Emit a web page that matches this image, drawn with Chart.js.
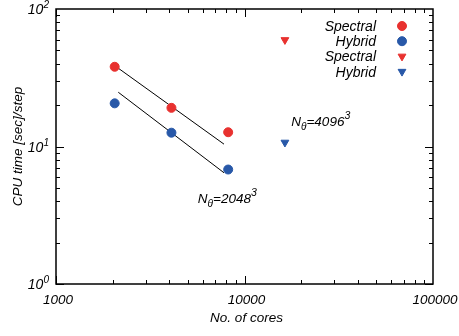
<!DOCTYPE html>
<html>
<head>
<meta charset="utf-8">
<script src="https://cdn.jsdelivr.net/npm/chart.js@4"></script>
<style>
  html, body { margin: 0; padding: 0; background: #fff; }
</style>
</head>
<body>
<canvas id="cpuChart" width="459" height="336"></canvas>
<script>
// data
const cores = [2048, 4096, 8192];
const spectral2048 = [38, 19.1, 12.7];
const hybrid2048 = [20.6, 12.6, 6.8];
const cores4096 = [16384];
const spectral4096 = [59.6];
const hybrid4096 = [10.7];
// ideal scaling guide lines
const fitCores = [2140, 7785];
const fitSpectral = [37.1, 10.4];
const fitHybrid = [24.8, 6.44];

const xTicks = [1000, 10000, 100000];
const yTicks = [1, 10, 100];
const legendLabels = ['Spectral', 'Hybrid', 'Spectral', 'Hybrid'];

const RED = '#e8312f';
const BLUE = '#2858a8';
const FONT = 'Liberation Sans, Arial, sans-serif';

function pts(xs, ys) {
    return xs.map((x, i) => ({ x: x, y: ys[i] }));
}

// draws text pieces: [text, sizeFactor, yShift]
function richText(ctx, parts, x, y, size) {
    let cx = x;
    parts.forEach(p => {
        ctx.font = 'italic ' + (size * p[1]) + 'px ' + FONT;
        ctx.fillText(p[0], cx, y + p[2]);
        cx += ctx.measureText(p[0]).width;
    });
    return cx - x;
}
function richWidth(ctx, parts, size) {
    let w = 0;
    parts.forEach(p => {
        ctx.font = 'italic ' + (size * p[1]) + 'px ' + FONT;
        w += ctx.measureText(p[0]).width;
    });
    return w;
}

const framePlugin = {
    id: 'frame',
    afterDraw(chart) {
        const ctx = chart.ctx;
        const a = chart.chartArea;
        const xs = chart.scales.x, ys = chart.scales.y;
        ctx.save();
        ctx.strokeStyle = '#000';
        ctx.fillStyle = '#000';
        ctx.lineWidth = 1;

        // ticks inside the frame, on all four sides
        ctx.beginPath();
        for (let d = 1000; d < 100000; d *= 10) {
            for (let m = 1; m < 10; m++) {
                const v = d * m;
                const px = Math.round(xs.getPixelForValue(v)) + 0.5;
                const len = m === 1 ? 8 : 4;
                ctx.moveTo(px, a.bottom); ctx.lineTo(px, a.bottom - len);
                ctx.moveTo(px, a.top); ctx.lineTo(px, a.top + len);
            }
        }
        for (let d = 1; d < 100; d *= 10) {
            for (let m = 1; m < 10; m++) {
                const v = d * m;
                const py = Math.round(ys.getPixelForValue(v)) + 0.5;
                const len = m === 1 ? 8 : 4;
                ctx.moveTo(a.left, py); ctx.lineTo(a.left + len, py);
                ctx.moveTo(a.right, py); ctx.lineTo(a.right - len, py);
            }
        }
        ctx.stroke();

        ctx.lineWidth = 1.5;
        ctx.strokeRect(a.left, a.top, a.right - a.left, a.bottom - a.top);

        // x tick labels
        ctx.textBaseline = 'alphabetic';
        ctx.textAlign = 'center';
        ctx.font = 'italic 13.5px ' + FONT;
        xTicks.forEach(v => {
            ctx.fillText(String(v), xs.getPixelForValue(v) + 2, a.bottom + 20);
        });

        // y tick labels 10^n
        ctx.textAlign = 'left';
        yTicks.forEach(v => {
            const parts = [['10', 1, 0], [String(Math.round(Math.log10(v))), 0.72, -6]];
            const w = richWidth(ctx, parts, 14);
            richText(ctx, parts, a.left - 7 - w, ys.getPixelForValue(v) + 5, 14);
        });

        // axis titles
        ctx.font = 'italic 13.5px ' + FONT;
        ctx.textAlign = 'center';
        ctx.fillText('No. of cores', (a.left + a.right) / 2 + 2, 322);
        ctx.save();
        ctx.translate(22, (a.top + a.bottom) / 2);
        ctx.rotate(-Math.PI / 2);
        ctx.fillText('CPU time [sec]/step', 0, 0);
        ctx.restore();

        // annotations
        ctx.textAlign = 'left';
        const ann = [
            [['N', 1, 0], ['\u03b8', 0.75, 4], ['=2048', 1, 0], ['3', 0.78, -7]],
            [['N', 1, 0], ['\u03b8', 0.75, 4], ['=4096', 1, 0], ['3', 0.78, -7]]
        ];
        richText(ctx, ann[0], xs.getPixelForValue(5650), ys.getPixelForValue(3.9), 13.5);
        richText(ctx, ann[1], xs.getPixelForValue(17700), ys.getPixelForValue(14.0), 13.5);

        // legend: text right aligned, marker on the right
        const styles = [
            { color: RED, style: 'circle', rot: 0 },
            { color: BLUE, style: 'circle', rot: 0 },
            { color: RED, style: 'triangle', rot: 180 },
            { color: BLUE, style: 'triangle', rot: 180 }
        ];
        legendLabels.forEach((lab, i) => {
            const y = 26 + i * 15.2;
            ctx.font = 'italic 14px ' + FONT;
            ctx.textAlign = 'right';
            ctx.fillStyle = '#000';
            ctx.fillText(lab, 376, y + 5);
            ctx.fillStyle = styles[i].color;
            ctx.strokeStyle = styles[i].color;
            ctx.lineWidth = 1;
            Chart.helpers.drawPoint(ctx, {
                pointStyle: styles[i].style,
                radius: 4.5,
                rotation: styles[i].rot,
                borderWidth: 1
            }, 402, y);
        });
        ctx.restore();
    }
};

new Chart(document.getElementById('cpuChart'), {
    type: 'scatter',
    data: {
        datasets: [
            {
                label: 'Spectral',
                data: pts(cores, spectral2048),
                backgroundColor: RED, borderColor: RED,
                pointStyle: 'circle', pointRadius: 4.5
            },
            {
                label: 'Hybrid',
                data: pts(cores, hybrid2048),
                backgroundColor: BLUE, borderColor: BLUE,
                pointStyle: 'circle', pointRadius: 4.5
            },
            {
                label: 'Spectral',
                data: pts(cores4096, spectral4096),
                backgroundColor: RED, borderColor: RED,
                pointStyle: 'triangle', rotation: 180, pointRadius: 4.5
            },
            {
                label: 'Hybrid',
                data: pts(cores4096, hybrid4096),
                backgroundColor: BLUE, borderColor: BLUE,
                pointStyle: 'triangle', rotation: 180, pointRadius: 4.5
            },
            {
                type: 'line',
                data: pts(fitCores, fitSpectral),
                borderColor: '#000', borderWidth: 1,
                pointRadius: 0, showLine: true, fill: false
            },
            {
                type: 'line',
                data: pts(fitCores, fitHybrid),
                borderColor: '#000', borderWidth: 1,
                pointRadius: 0, showLine: true, fill: false
            }
        ]
    },
    options: {
        responsive: false,
        animation: false,
        layout: { padding: { left: 56, top: 9, right: 26, bottom: 52 } },
        plugins: {
            legend: { display: false },
            tooltip: { enabled: false }
        },
        scales: {
            x: { type: 'logarithmic', min: 1000, max: 100000, display: false },
            y: { type: 'logarithmic', min: 1, max: 100, display: false }
        }
    },
    plugins: [framePlugin]
});
</script>
</body>
</html>
